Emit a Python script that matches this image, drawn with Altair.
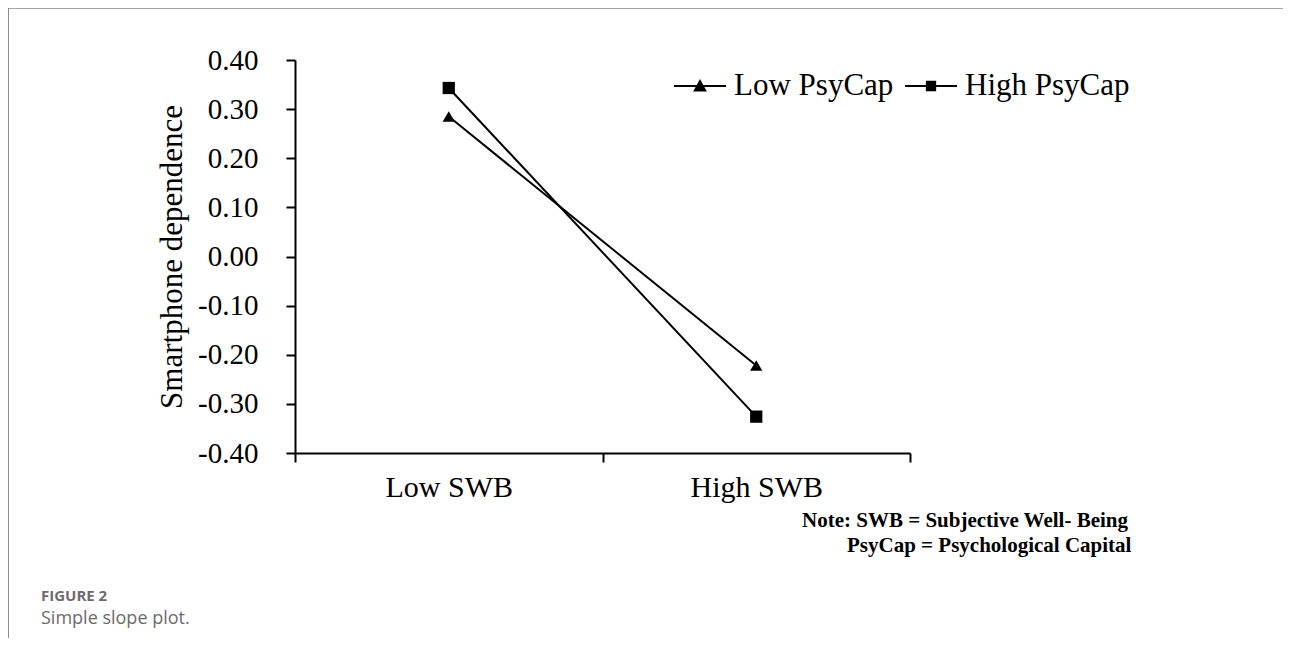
import altair as alt
import pandas as pd

# ---- data ----
swb_levels = ["Low SWB", "High SWB"]
series_names = ["Low PsyCap", "High PsyCap"]
low_psycap = [0.285, -0.222]
high_psycap = [0.343, -0.326]
y_ticks = [-0.4, -0.3, -0.2, -0.1, 0.0, 0.1, 0.2, 0.3, 0.4]
y_title = "Smartphone dependence"
note_lines = ["Note: SWB = Subjective Well- Being", "PsyCap = Psychological Capital"]
fig_label = "FIGURE 2"
fig_caption = "Simple slope plot."

rows = []
for name, vals in zip(series_names, [low_psycap, high_psycap]):
    for lvl, v in zip(swb_levels, vals):
        rows.append({"swb": lvl, "value": v, "group": name, "legend": name})
df = pd.DataFrame(rows)

SERIF = "Liberation Serif"
SANS = "Open Sans"
W, H = 615, 393

# legend symbol paths: a horizontal line with a marker in the middle
TRI = "M-1,0L1,0M-0.2,0.17L0,-0.19L0.2,0.17Z"
SQR = "M-1,0L1,0M-0.16,-0.16L0.16,-0.16L0.16,0.16L-0.16,0.16Z"

x_enc = alt.X(
    "swb:N",
    sort=swb_levels,
    scale=alt.Scale(type="band", domain=swb_levels, paddingInner=0, paddingOuter=0),
    axis=alt.Axis(
        title=None,
        tickBand="extent",
        labelAngle=0,
        labelFont=SERIF,
        labelFontSize=30,
        labelColor="black",
        labelPadding=10,
        tickSize=9,
        tickColor="black",
        tickWidth=2,
        domainColor="black",
        domainWidth=2,
        grid=False,
    ),
)
y_enc = alt.Y(
    "value:Q",
    scale=alt.Scale(domain=[-0.4, 0.4], nice=False, zero=False),
    axis=alt.Axis(
        title=y_title,
        values=y_ticks,
        labelExpr="datum.value < -0.0001 ? '-' + format(-datum.value, '.2f') : format(abs(datum.value), '.2f')",
        labelFont=SERIF,
        labelFontSize=29,
        labelColor="black",
        labelPadding=28,
        tickSize=9,
        tickColor="black",
        tickWidth=2,
        domainColor="black",
        domainWidth=2,
        grid=False,
        titleFont=SERIF,
        titleFontSize=31,
        titleFontWeight="normal",
        titleColor="black",
        titlePadding=9,
    ),
)

lines = alt.Chart(df).mark_line(color="black", strokeWidth=2).encode(
    x=x_enc, y=y_enc, detail="group:N"
)

points = alt.Chart(df).mark_point(filled=True, color="black", opacity=1).encode(
    x=x_enc,
    y=y_enc,
    shape=alt.Shape(
        "group:N",
        scale=alt.Scale(domain=series_names, range=["triangle-up", "square"]),
        legend=None,
    ),
    size=alt.value(150),
)

# legend provider: no marks drawn (empty after filter), only the legend
legend_layer = (
    alt.Chart(df)
    .transform_filter("false")
    .mark_point(filled=True, fill="black", stroke="black", strokeWidth=2, opacity=1)
    .encode(
        x=x_enc,
        y=y_enc,
        shape=alt.Shape(
            "legend:N",
            scale=alt.Scale(domain=series_names, range=[TRI, SQR]),
            legend=alt.Legend(
                title=None,
                orient="none",
                legendX=378,
                legendY=-1,
                direction="horizontal",
                labelFont=SERIF,
                labelFontSize=31,
                labelColor="black",
                labelLimit=400,
                labelOffset=7,
                columnPadding=7,
                symbolSize=2704,
                symbolStrokeWidth=2,
                symbolOpacity=1,
            ),
        ),
        size=alt.value(2704),
    )
)

# decorative page frame
frame_df = pd.DataFrame({"k": [0]})
top_rule = alt.Chart(frame_df).mark_rule(color="#a6a6a6", strokeWidth=2).encode(
    x=alt.value(-287), x2=alt.value(1000), y=alt.value(-52)
)
left_rule = alt.Chart(frame_df).mark_rule(color="#8c8c8c", strokeWidth=2).encode(
    x=alt.value(-287), y=alt.value(-52), y2=alt.value(600)
)

note1 = alt.Chart(pd.DataFrame({"t": [note_lines[0]]})).mark_text(
    font=SERIF, fontSize=21, fontWeight="bold", color="black", align="left", baseline="alphabetic"
).encode(text="t:N", x=alt.value(507), y=alt.value(467))
note2 = alt.Chart(pd.DataFrame({"t": [note_lines[1]]})).mark_text(
    font=SERIF, fontSize=21, fontWeight="bold", color="black", align="left", baseline="alphabetic"
).encode(text="t:N", x=alt.value(552), y=alt.value(492))

cap1 = alt.Chart(pd.DataFrame({"t": [fig_label]})).mark_text(
    font=SANS, fontSize=15, fontWeight="bold", color="#6b6b6b", align="left", baseline="alphabetic"
).encode(text="t:N", x=alt.value(-254), y=alt.value(541))
cap2 = alt.Chart(pd.DataFrame({"t": [fig_caption]})).mark_text(
    font=SANS, fontSize=18, color="#6b6b6b", align="left", baseline="alphabetic"
).encode(text="t:N", x=alt.value(-254), y=alt.value(564))

chart = (
    alt.layer(lines, points, legend_layer, top_rule, left_rule, note1, note2, cap1, cap2)
    .resolve_scale(shape="independent")
    .properties(
        width=W,
        height=H,
        autosize=alt.AutoSizeParams(type="none"),
        padding={"left": 287, "top": 52, "right": 373, "bottom": 185},
        background="white",
    )
    .configure_view(strokeWidth=0)
)

chart.save("out.html", embed_options={"renderer": "svg", "actions": False})
